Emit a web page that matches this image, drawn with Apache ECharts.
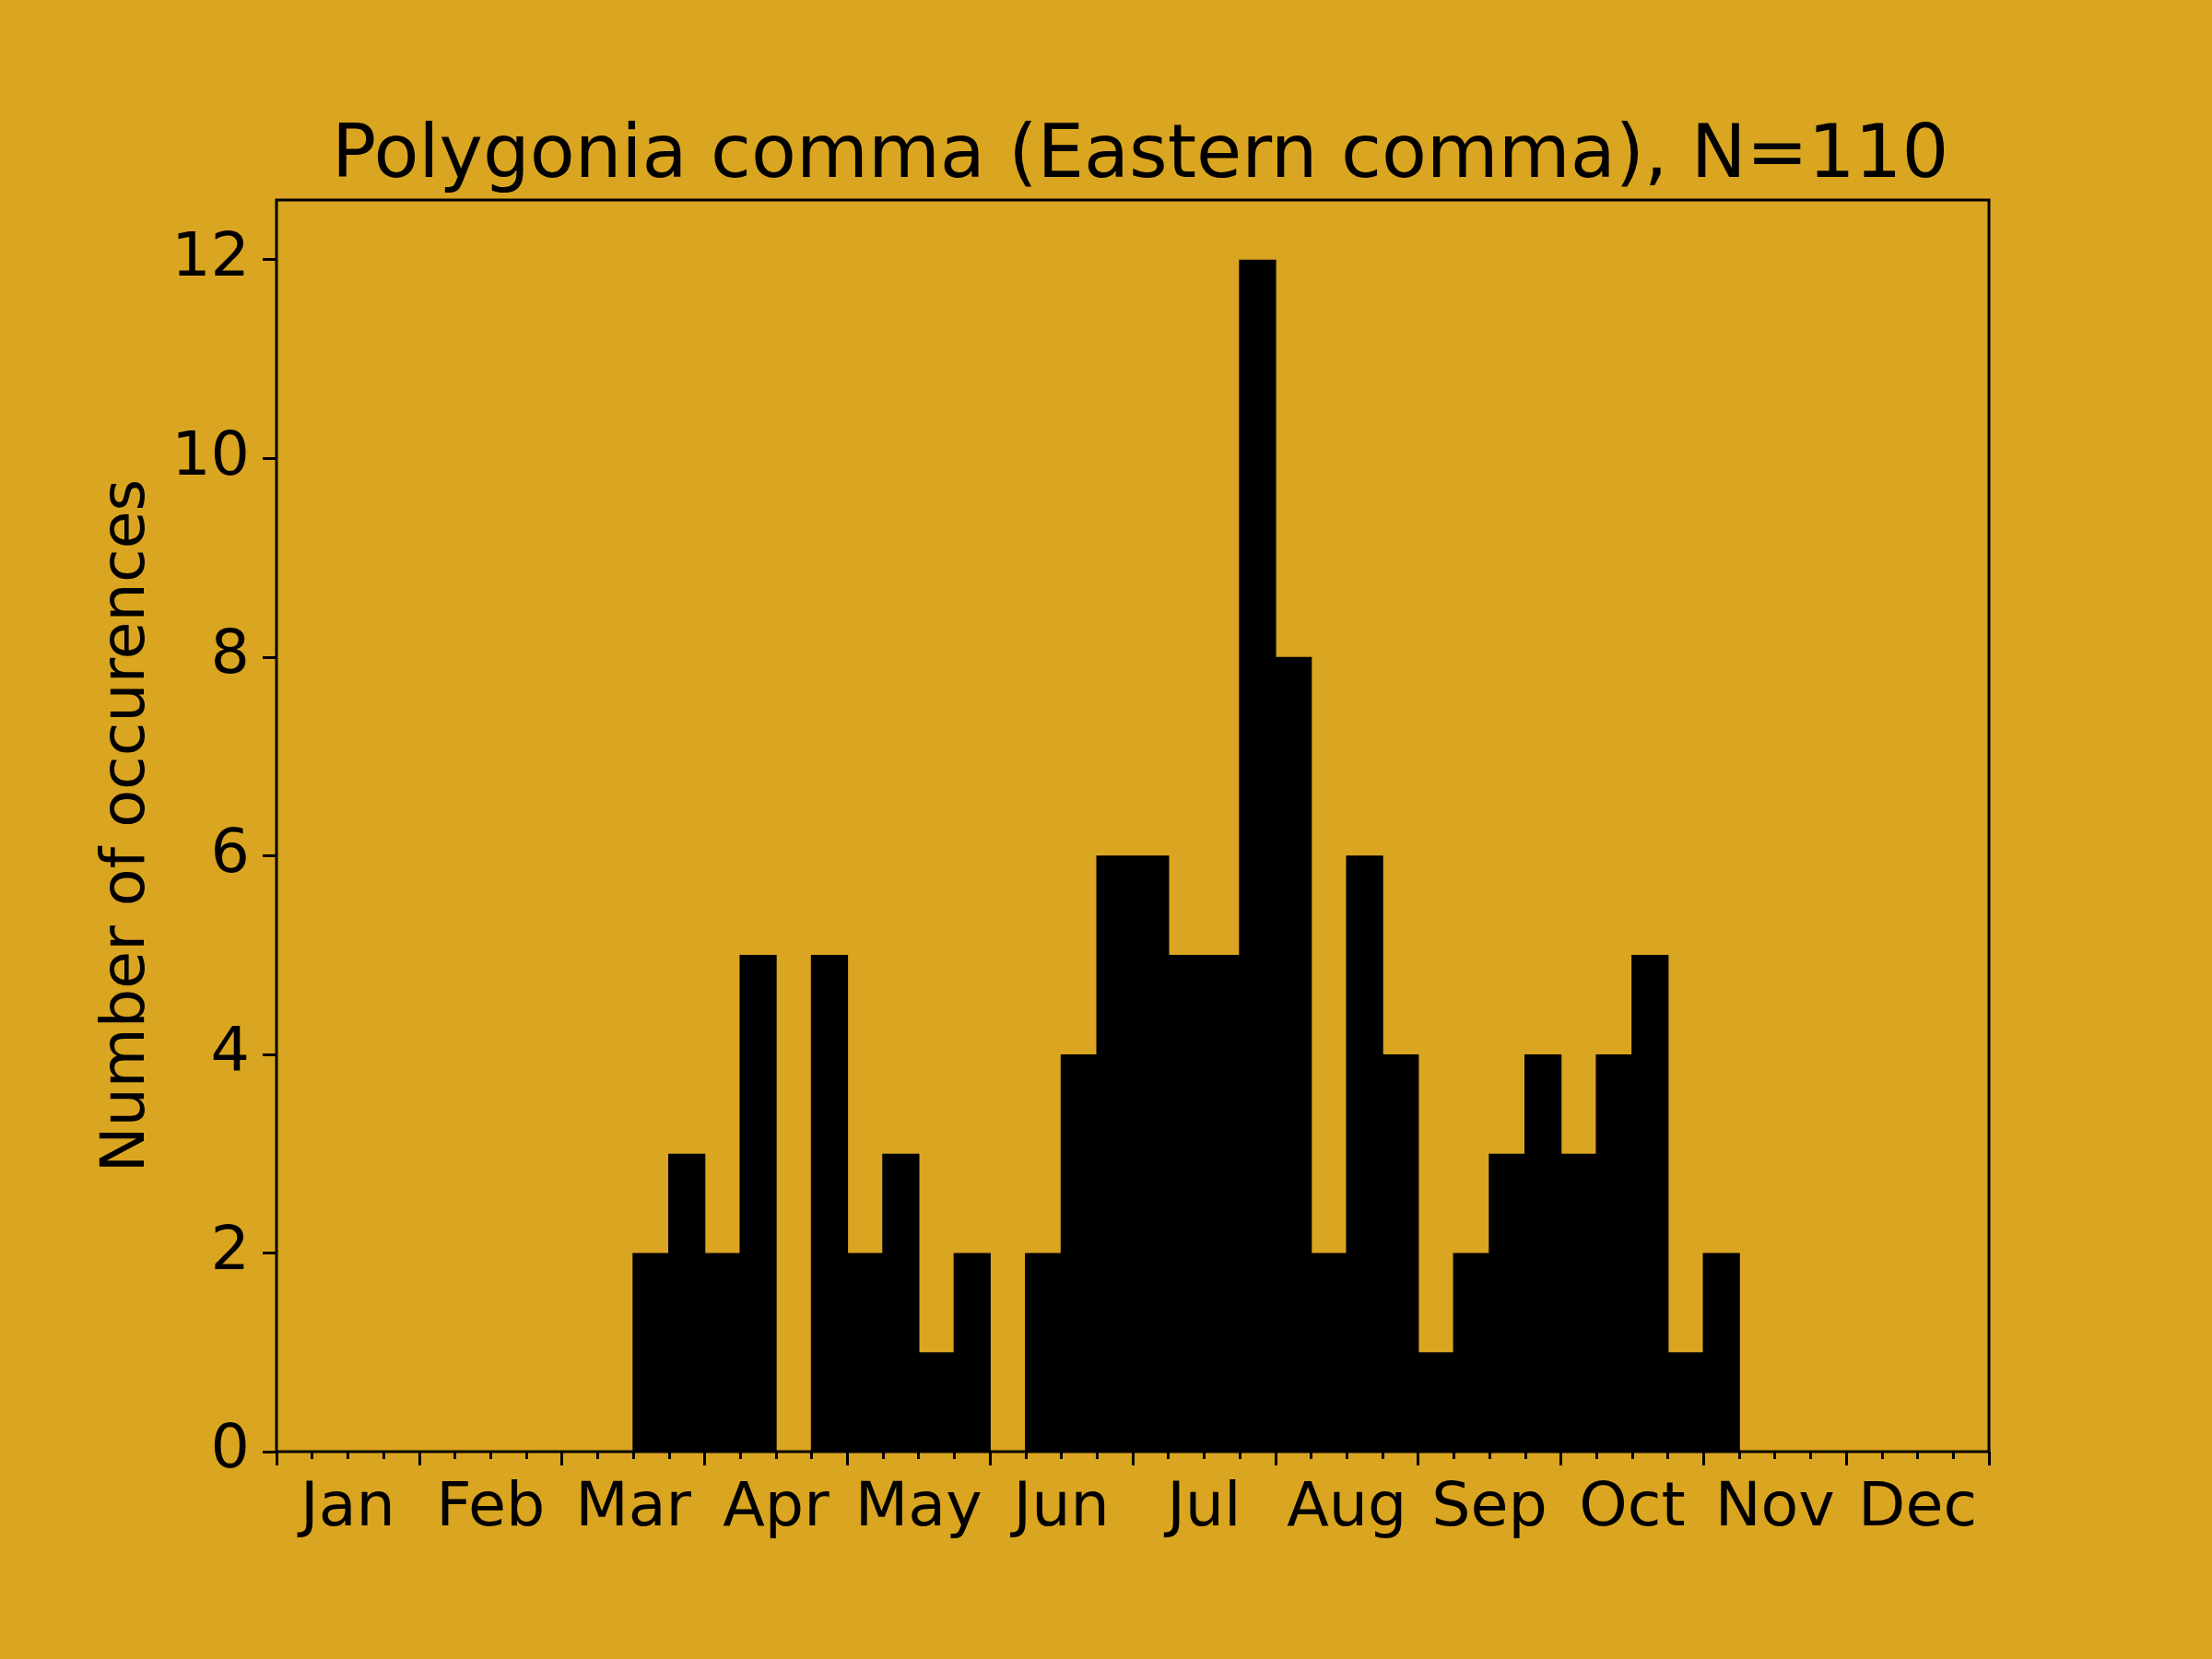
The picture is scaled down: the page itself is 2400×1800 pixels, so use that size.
<!DOCTYPE html>
<html>
<head>
<meta charset="utf-8">
<script src="https://cdn.jsdelivr.net/npm/echarts@6/dist/echarts.min.js"></script>
<style>
html,body{margin:0;padding:0;background:#DAA520;}
#c{width:2400px;height:1800px;}
</style>
</head>
<body>
<div id="c"></div>
<script>
const titleText = 'Polygonia comma (Eastern comma), N=110';
const yAxisName = 'Number of occurences';
const months = ['Jan','Feb','Mar','Apr','May','Jun','Jul','Aug','Sep','Oct','Nov','Dec'];
const bins = Array.from({length: 48}, (_, i) => 'b' + i);
const counts = [
  0,0,0,0, 0,0,0,0, 0,0,2,3, 2,5,0,5,
  2,3,1,2, 0,2,4,6, 6,5,5,12, 8,2,6,4,
  1,2,3,4, 3,4,5,1, 2,0,0,0, 0,0,0,0
];
const yTicks = [0,2,4,6,8,10,12];

const chart = echarts.init(document.getElementById('c'), null, {renderer: 'canvas'});
const font = 'DejaVu Sans';
chart.setOption({
  backgroundColor: '#DAA520',
  animation: false,
  title: {
    text: titleText,
    left: 355,
    top: 126,
    textStyle: {fontFamily: font, fontSize: 80, fontWeight: 'normal', color: '#000'}
  },
  grid: {
    left: 300, right: 242, top: 217, bottom: 225,
    show: true, borderColor: '#000', borderWidth: 3, backgroundColor: 'transparent'
  },
  xAxis: [
    {
      type: 'category', data: bins, boundaryGap: true,
      axisLine: {show: false},
      axisTick: {show: true, interval: 0, length: 8, lineStyle: {color: '#000', width: 3}},
      axisLabel: {show: false},
      splitLine: {show: false}
    },
    {
      type: 'category', data: months, boundaryGap: true, position: 'bottom',
      axisLine: {show: false},
      axisTick: {show: true, interval: 0, length: 15, lineStyle: {color: '#000', width: 3}},
      axisLabel: {show: true, interval: 0, margin: 29, fontFamily: font, fontSize: 66.7, color: '#000'},
      splitLine: {show: false}
    }
  ],
  yAxis: {
    type: 'value', min: 0, max: 12.6,
    name: yAxisName, nameLocation: 'middle', nameGap: 128, nameRotate: 90,
    nameTextStyle: {fontFamily: font, fontSize: 66.7, color: '#000'},
    axisLine: {show: false},
    axisTick: {show: true, length: 15, customValues: yTicks, lineStyle: {color: '#000', width: 3}},
    axisLabel: {show: true, customValues: yTicks, margin: 29, fontFamily: font, fontSize: 66.7, color: '#000'},
    splitLine: {show: false}
  },
  series: [{
    type: 'bar', xAxisIndex: 0, data: counts,
    barWidth: '104%', barGap: '0%',
    itemStyle: {color: '#000', borderWidth: 0}
  }]
});
</script>
</body>
</html>
